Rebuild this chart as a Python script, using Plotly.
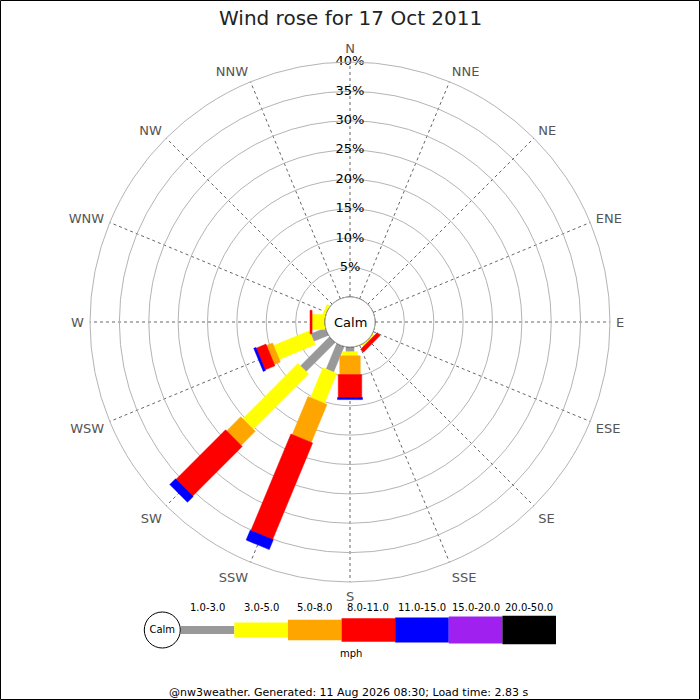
import numpy as np
import plotly.graph_objects as go

# wind rose for 17 Oct 2011 (nw3weather), % of the day per direction and speed band
directions = ["N", "NNE", "NE", "ENE", "E", "ESE", "SE", "SSE",
              "S", "SSW", "SW", "WSW", "W", "WNW", "NW", "NNW"]
speed_bins = ["1.0-3.0", "3.0-5.0", "5.0-8.0", "8.0-11.0",
              "11.0-15.0", "15.0-20.0", "20.0-50.0"]

#            N  NNE NE ENE E  ESE SE   SSE  S     SSW   SW    WSW  W     WNW  NW NNW
freq_1_3   = [0, 0, 0, 0, 0, 0, 0.0, 0, 0.8,  4.7,  7.0,  2.7, 0.0,  0.0, 0, 0]
freq_3_5   = [0, 0, 0, 0, 0, 0, 0.3, 0, 0.7,  5.5, 13.3,  6.6, 2.2,  0.5, 0, 0]
freq_5_8   = [0, 0, 0, 0, 0, 0, 0.0, 0, 3.2,  7.0,  3.4,  1.1, 0.0,  0.0, 0, 0]
freq_8_11  = [0, 0, 0, 0, 0, 0, 0.7, 0, 3.9, 17.8, 11.9,  1.8, 0.35, 0.0, 0, 0]
freq_11_15 = [0, 0, 0, 0, 0, 0, 0.0, 0, 0.35, 1.8,  1.4,  0.4, 0.0,  0.0, 0, 0]
freq_15_20 = [0] * 16
freq_20_50 = [0] * 16

radial_ticks = [5, 10, 15, 20, 25, 30, 35, 40]
calm_text = "Calm"
title_text = "Wind rose for 17 Oct 2011"
footer_text = "@nw3weather. Generated: 11 Aug 2026 08:30; Load time: 2.83 s"

# styling
colours = ["#999999", "#ffff00", "#ffa500", "#ff0000", "#0000ff", "#a020f0", "#000000"]
bar_px = [8, 15, 20.5, 23.5, 25, 27, 28.5]   # bar thickness in pixels
R_PX = 260.0          # outer ring radius
HOLE_PX = 25.0        # calm circle radius
R_MAX = 40
px_per_pct = (R_PX - HOLE_PX) / R_MAX
R0 = HOLE_PX / px_per_pct          # hole expressed in % units
half_w = [p / px_per_pct / 2 for p in bar_px]

bands = [freq_1_3, freq_3_5, freq_5_8, freq_8_11, freq_11_15, freq_15_20, freq_20_50]


def bar_outline(angle, lo, hi, half):
    """rectangle of constant width along a spoke, returned in polar data coords"""
    d_lo = np.sqrt(R0 ** 2 - half ** 2) if lo == 0 else R0 + lo
    d_hi = R0 + hi
    r, t = [], []
    for d, off in [(d_lo, -half), (d_hi, -half), (d_hi, half), (d_lo, half), (d_lo, -half)]:
        r.append(float(np.hypot(d, off) - R0))
        t.append(float(angle + np.degrees(np.arctan2(off, d))))
    return r, t


fig = go.Figure()

cum = np.zeros(len(directions))
for k, vals in enumerate(bands):
    rs, ts = [], []
    for i, v in enumerate(vals):
        if v > 0:
            r, t = bar_outline(22.5 * i, cum[i], cum[i] + v, half_w[k])
            rs += r + [None]
            ts += t + [None]
    cum += np.array(vals, dtype=float)
    if rs:
        fig.add_trace(go.Scatterpolar(
            r=rs, theta=ts, mode="lines", fill="toself",
            fillcolor=colours[k], line=dict(color=colours[k], width=0.5),
            hoverinfo="skip", name=speed_bins[k]))

# calm circle in the middle
circ = np.linspace(0, 360, 181)
fig.add_trace(go.Scatterpolar(
    r=[0] * len(circ), theta=circ, mode="lines", fill="toself",
    fillcolor="white", line=dict(color="black", width=1), hoverinfo="skip"))

# percentage labels along the north spoke
fig.add_trace(go.Scatterpolar(
    r=radial_ticks, theta=[0] * len(radial_ticks), mode="text",
    text=[f"{v}%" for v in radial_ticks], textposition="middle center",
    textfont=dict(size=13, color="black"), hoverinfo="skip", cliponaxis=False))

cx, cy = 350, 322
fig.update_layout(
    width=700, height=700,
    margin=dict(l=0, r=0, t=0, b=0),
    paper_bgcolor="white",
    showlegend=False,
    font=dict(family="DejaVu Sans", color="black"),
    polar=dict(
        domain=dict(x=[(cx - R_PX) / 700, (cx + R_PX) / 700],
                    y=[1 - (cy + R_PX) / 700, 1 - (cy - R_PX) / 700]),
        hole=HOLE_PX / R_PX,
        bgcolor="white",
        radialaxis=dict(range=[0, R_MAX], tickvals=radial_ticks, showticklabels=False,
                        ticks="", showline=False, gridcolor="#b4b4b4", gridwidth=1),
        angularaxis=dict(rotation=90, direction="clockwise",
                         tickmode="array", tickvals=[22.5 * i for i in range(16)],
                         ticktext=directions, ticks="outside", ticklen=3,
                         tickcolor="rgba(0,0,0,0)",
                         tickfont=dict(size=13, color="#555555"),
                         showline=True, linecolor="#b4b4b4", linewidth=1,
                         gridcolor="#666666", griddash="dot", gridwidth=1),
    ),
)


def note(x, y, text, size, colour="black", xref="paper"):
    fig.add_annotation(x=x, y=y, xref=xref, yref="paper", text=text, showarrow=False,
                       xanchor="center", yanchor="middle",
                       font=dict(size=size, color=colour))


note(cx / 700, 1 - cy / 700, calm_text, 13)

# speed legend underneath
seg_x0, seg_x1 = 180.7, 556.0
seg_w = (seg_x1 - seg_x0) / len(speed_bins)
leg_y = 630
fig.update_layout(
    xaxis=dict(domain=[(seg_x0 - seg_w) / 700, seg_x1 / 700], range=[-1.5, 6.5],
               visible=False, fixedrange=True),
    yaxis=dict(domain=[1 - (leg_y + 20) / 700, 1 - (leg_y - 20) / 700],
               range=[-20 / px_per_pct, 20 / px_per_pct], visible=False, fixedrange=True),
    plot_bgcolor="rgba(0,0,0,0)",
)
leg_h = [2 * h for h in half_w]
fig.add_trace(go.Bar(x=list(range(len(speed_bins))), y=leg_h,
                     base=[-h / 2 for h in leg_h], width=1,
                     marker=dict(color=colours, line=dict(width=0)), hoverinfo="skip"))
fig.add_trace(go.Scatter(x=[-0.5 + (162.3 - seg_x0) / seg_w], y=[0], mode="markers+text",
                         marker=dict(size=36, color="white", line=dict(color="black", width=1)),
                         text=[calm_text], textposition="middle center",
                         textfont=dict(size=10, color="black"), cliponaxis=False,
                         hoverinfo="skip"))
for i, lab in enumerate(speed_bins):
    note(i, 1 - 607.5 / 700, lab, 10, xref="x")
note(0.501, 1 - 653.5 / 700, "mph", 10)

note(0.5, 1 - 17.5 / 700, title_text, 20, "#222222")
note(348 / 700, 1 - 692.5 / 700, footer_text, 11)

fig.add_shape(type="rect", xref="paper", yref="paper", x0=0.5 / 700, x1=699.5 / 700,
              y0=0.5 / 700, y1=699.5 / 700, line=dict(color="black", width=1))

fig.write_html("out.html", config={"displayModeBar": False},
               post_script="document.body.style.margin = '0px';")
